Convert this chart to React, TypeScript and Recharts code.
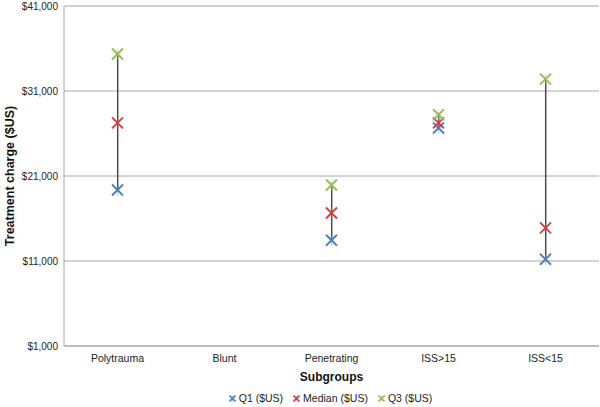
import React from 'react';
import { ComposedChart, Bar, Scatter, XAxis, YAxis, CartesianGrid, Legend } from 'recharts';

const categories = ['Polytrauma', 'Blunt', 'Penetrating', 'ISS>15', 'ISS<15'];
const q1Values: (number | null)[] = [19350, null, 13450, 26650, 11200];
const medianValues: (number | null)[] = [27250, null, 16650, 27250, 14900];
const q3Values: (number | null)[] = [35350, null, 19950, 28200, 32400];
const yTicks = [1000, 11000, 21000, 31000, 41000];

const seriesInfo = [
  { key: 'q1', name: 'Q1 ($US)', color: '#4F81BD' },
  { key: 'median', name: 'Median ($US)', color: '#D0413E' },
  { key: 'q3', name: 'Q3 ($US)', color: '#9BBB59' },
];

const data = categories.map((c, i) => ({
  name: c,
  q1: q1Values[i],
  median: medianValues[i],
  q3: q3Values[i],
  range: q1Values[i] != null && q3Values[i] != null ? [q1Values[i], q3Values[i]] : null,
}));

const fmt = (v: number) => '$' + v.toLocaleString('en-US');

const makeMark = (color: string) => (props: any) => {
  const { cx, cy } = props;
  if (cx == null || cy == null || isNaN(cx) || isNaN(cy)) return <g />;
  const s = 5.5;
  return (
    <g>
      <line x1={cx - s} y1={cy - s} x2={cx + s} y2={cy + s} stroke={color} strokeWidth={2} />
      <line x1={cx - s} y1={cy + s} x2={cx + s} y2={cy - s} stroke={color} strokeWidth={2} />
      <line x1={cx} y1={cy - s} x2={cx} y2={cy + s} stroke={color} strokeWidth={0.8} opacity={0.5} />
    </g>
  );
};

const RangeLine = (props: any) => {
  const { x, y, width, height } = props;
  if (x == null || y == null || isNaN(y) || !height) return <g />;
  const cx = x + width / 2;
  return <line x1={cx} x2={cx} y1={y} y2={y + height} stroke="#4A4A4A" strokeWidth={1.5} />;
};

const LegendContent = () => (
  <div style={{ height: 18, paddingLeft: 62, display: 'flex', justifyContent: 'center', alignItems: 'center', fontFamily: 'Liberation Sans, Arial, sans-serif', fontSize: 10.5, color: '#222' }}>
    {seriesInfo.map((s, i) => (
      <span key={s.key} style={{ display: 'inline-flex', alignItems: 'center', marginRight: i < seriesInfo.length - 1 ? 10 : 0 }}>
        <svg width={7} height={7} style={{ marginRight: 3 }}>
          <line x1={0.5} y1={0.5} x2={6.5} y2={6.5} stroke={s.color} strokeWidth={1.6} />
          <line x1={0.5} y1={6.5} x2={6.5} y2={0.5} stroke={s.color} strokeWidth={1.6} />
          <line x1={3.5} y1={0.5} x2={3.5} y2={6.5} stroke={s.color} strokeWidth={0.8} opacity={0.5} />
        </svg>
        {s.name}
      </span>
    ))}
  </div>
);

export default function App() {
  return (
    <div style={{ position: 'absolute', left: 0, top: 0, width: 600, height: 407, background: '#fff' }}>
      <ComposedChart
        width={600}
        height={407}
        data={data}
        margin={{ top: 6, right: 1, bottom: 0, left: 0 }}
        style={{ fontFamily: 'Liberation Sans, Arial, sans-serif' }}
      >
        <CartesianGrid vertical={false} stroke="#A6A6A6" strokeWidth={1} />
        <XAxis
          dataKey="name"
          type="category"
          tickLine={false}
          axisLine={{ stroke: '#A6A6A6' }}
          tick={{ fill: '#222', fontSize: 10.5 }}
          tickMargin={3}
          height={43}
          label={{ value: 'Subgroups', position: 'insideBottom', offset: 8, style: { fontWeight: 'bold', fontSize: 12, fill: '#111' } }}
        />
        <YAxis
          type="number"
          domain={[1000, 41000]}
          ticks={yTicks}
          tickFormatter={fmt}
          tickLine={false}
          axisLine={{ stroke: '#A6A6A6' }}
          tick={{ fill: '#222', fontSize: 10 }}
          tickMargin={0}
          width={64}
          interval={0}
          label={{ value: 'Treatment charge ($US)', angle: -90, position: 'insideLeft', offset: 10, style: { textAnchor: 'middle', fontWeight: 'bold', fontSize: 12.5, fill: '#111' } }}
        />
        <Legend verticalAlign="bottom" height={18} content={<LegendContent />} />
        <Bar dataKey="range" shape={<RangeLine />} isAnimationActive={false} legendType="none" />
        {seriesInfo.map((s) => (
          <Scatter key={s.key} dataKey={s.key} name={s.name} shape={makeMark(s.color)} isAnimationActive={false} />
        ))}
      </ComposedChart>
    </div>
  );
}
